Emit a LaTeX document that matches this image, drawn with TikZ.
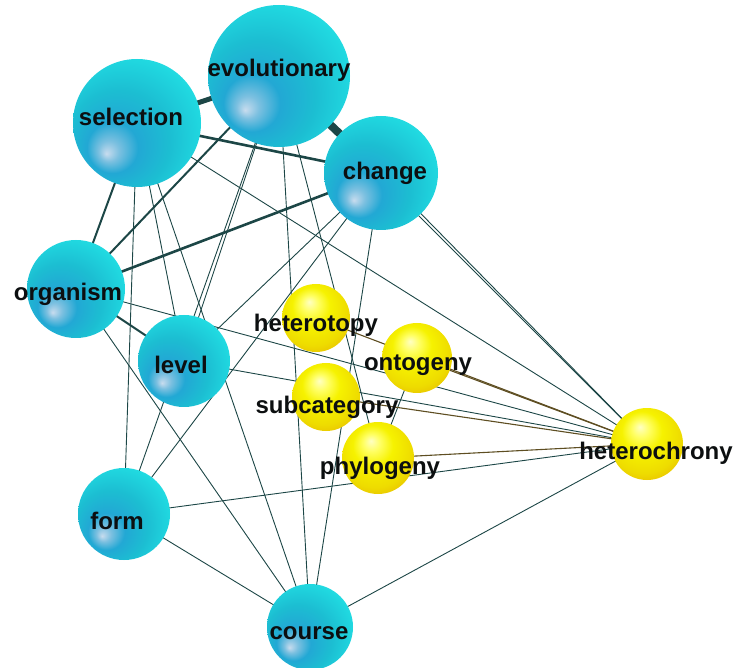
\documentclass[tikz,border=0pt]{standalone}
\usepackage{fontspec}
\setsansfont{Liberation Sans}
\usepackage{xcolor}
\usepackage{tikz}
\usetikzlibrary{backgrounds}
\definecolor{edgeteal}{HTML}{1C4646}
\definecolor{edgeolive}{HTML}{5E4E22}
\definecolor{wordcolor}{HTML}{0C0F10}
\definecolor{bluehi}{HTML}{C8DCEE}
\definecolor{bluesoft}{HTML}{7CC0E0}
\definecolor{bluemid}{HTML}{22A8D4}
\definecolor{bluebody}{HTML}{1CBED2}
\definecolor{bluecyan}{HTML}{20D8E0}
\definecolor{bluerim}{HTML}{3CF6EE}
\definecolor{yellowhi}{HTML}{FFFFC4}
\definecolor{yellowsoft}{HTML}{FFFF62}
\definecolor{yellowbody}{HTML}{F6F200}
\definecolor{yellowdeep}{HTML}{EEDC00}
\definecolor{yellowlow}{HTML}{E6B400}

\pgfdeclareradialshading{bluesphere}{\pgfpoint{-12bp}{-12bp}}{%
  color(0bp)=(bluehi); color(4bp)=(bluesoft); color(10bp)=(bluemid);
  color(20bp)=(bluebody); color(30bp)=(bluecyan); color(42bp)=(bluerim);
  color(50bp)=(bluerim)}
\pgfdeclareradialshading{yellowsphere}{\pgfpoint{-5bp}{12bp}}{%
  color(0bp)=(yellowhi); color(6bp)=(yellowsoft); color(14bp)=(yellowbody);
  color(26bp)=(yellowdeep); color(36bp)=(yellowlow); color(50bp)=(yellowlow)}

\tikzset{
  sphere/.style={circle, inner sep=0pt, draw=none},
  bluenode/.style={sphere, shading=bluesphere},
  yellownode/.style={sphere, shading=yellowsphere},
  word/.style={font=\sffamily\bfseries\fontsize{24}{24}\selectfont, text=wordcolor, inner sep=0pt},
  link/.style={draw=edgeteal, line width=0.9pt},
  yellowlink/.style={draw=edgeolive, line width=1.1pt}
}

\begin{document}
\begin{tikzpicture}[x=1pt, y=-1pt]
  \useasboundingbox (0,0) rectangle (734,668);

  % big blue spheres
  \node[bluenode, minimum size=142pt, label={[word, yshift=6pt]center:evolutionary}] (evolutionary) at (279,76) {};
  \node[bluenode, minimum size=128pt, label={[word, xshift=-6pt, yshift=6pt]center:selection}] (selection) at (137,123) {};
  \node[bluenode, minimum size=114pt, label={[word, xshift=4pt]center:change}] (change) at (381,173) {};
  \node[bluenode, minimum size=98pt, label={[word, xshift=-8pt, yshift=-5pt]center:organism}] (organism) at (76,289) {};
  \node[bluenode, minimum size=92pt, label={[word, xshift=-3pt, yshift=-4pt]center:level}] (level) at (184,361) {};
  \node[bluenode, minimum size=92pt, label={[word, xshift=-7pt, yshift=-7pt]center:form}] (form) at (124,514) {};
  \node[bluenode, minimum size=86pt, label={[word, xshift=-1pt, yshift=-6pt]center:course}] (course) at (310,627) {};

  % yellow spheres
  \node[yellownode, minimum size=68pt, label={[word, yshift=-7pt]center:heterotopy}] (heterotopy) at (316,318) {};
  \node[yellownode, minimum size=70pt, label={[word, xshift=1pt, yshift=-7pt]center:ontogeny}] (ontogeny) at (417,358) {};
  \node[yellownode, minimum size=68pt, label={[word, xshift=1pt, yshift=-10pt]center:subcategory}] (subcategory) at (326,397) {};
  \node[yellownode, minimum size=72pt, label={[word, xshift=2pt, yshift=-10pt]center:phylogeny}] (phylogeny) at (378,458) {};
  \node[yellownode, minimum size=72pt, label={[word, xshift=9pt, yshift=-9pt]center:heterochrony}] (heterochrony) at (647,444) {};

  \begin{scope}[on background layer]
    % strong links
    \draw[link, line width=8pt] (evolutionary.center) -- (change.center);
    \draw[link, line width=5pt] (selection.center) -- (evolutionary.center);
    \draw[link, line width=2.6pt] (selection.center) -- (change.center);
    \draw[link, line width=2.6pt] (organism.center) -- (change.center);
    \foreach \a/\b in {organism/evolutionary, organism/selection, organism/level}
      \draw[link, line width=2pt] (\a.center) -- (\b.center);
    % weak links
    \foreach \a/\b in {selection/form, selection/level, selection/course, selection/heterochrony,
        evolutionary/level, evolutionary/form, evolutionary/course, evolutionary/phylogeny,
        evolutionary/heterochrony, change/level, change/form, change/course, change/heterochrony,
        organism/course, organism/heterochrony, level/heterochrony, form/course,
        form/heterochrony, course/heterochrony, ontogeny/phylogeny}
      \draw[link] (\a.center) -- (\b.center);
    \foreach \a in {heterotopy, ontogeny, subcategory, phylogeny}
      \draw[yellowlink] (\a.center) -- (heterochrony.center);
  \end{scope}
\end{tikzpicture}
\end{document}
